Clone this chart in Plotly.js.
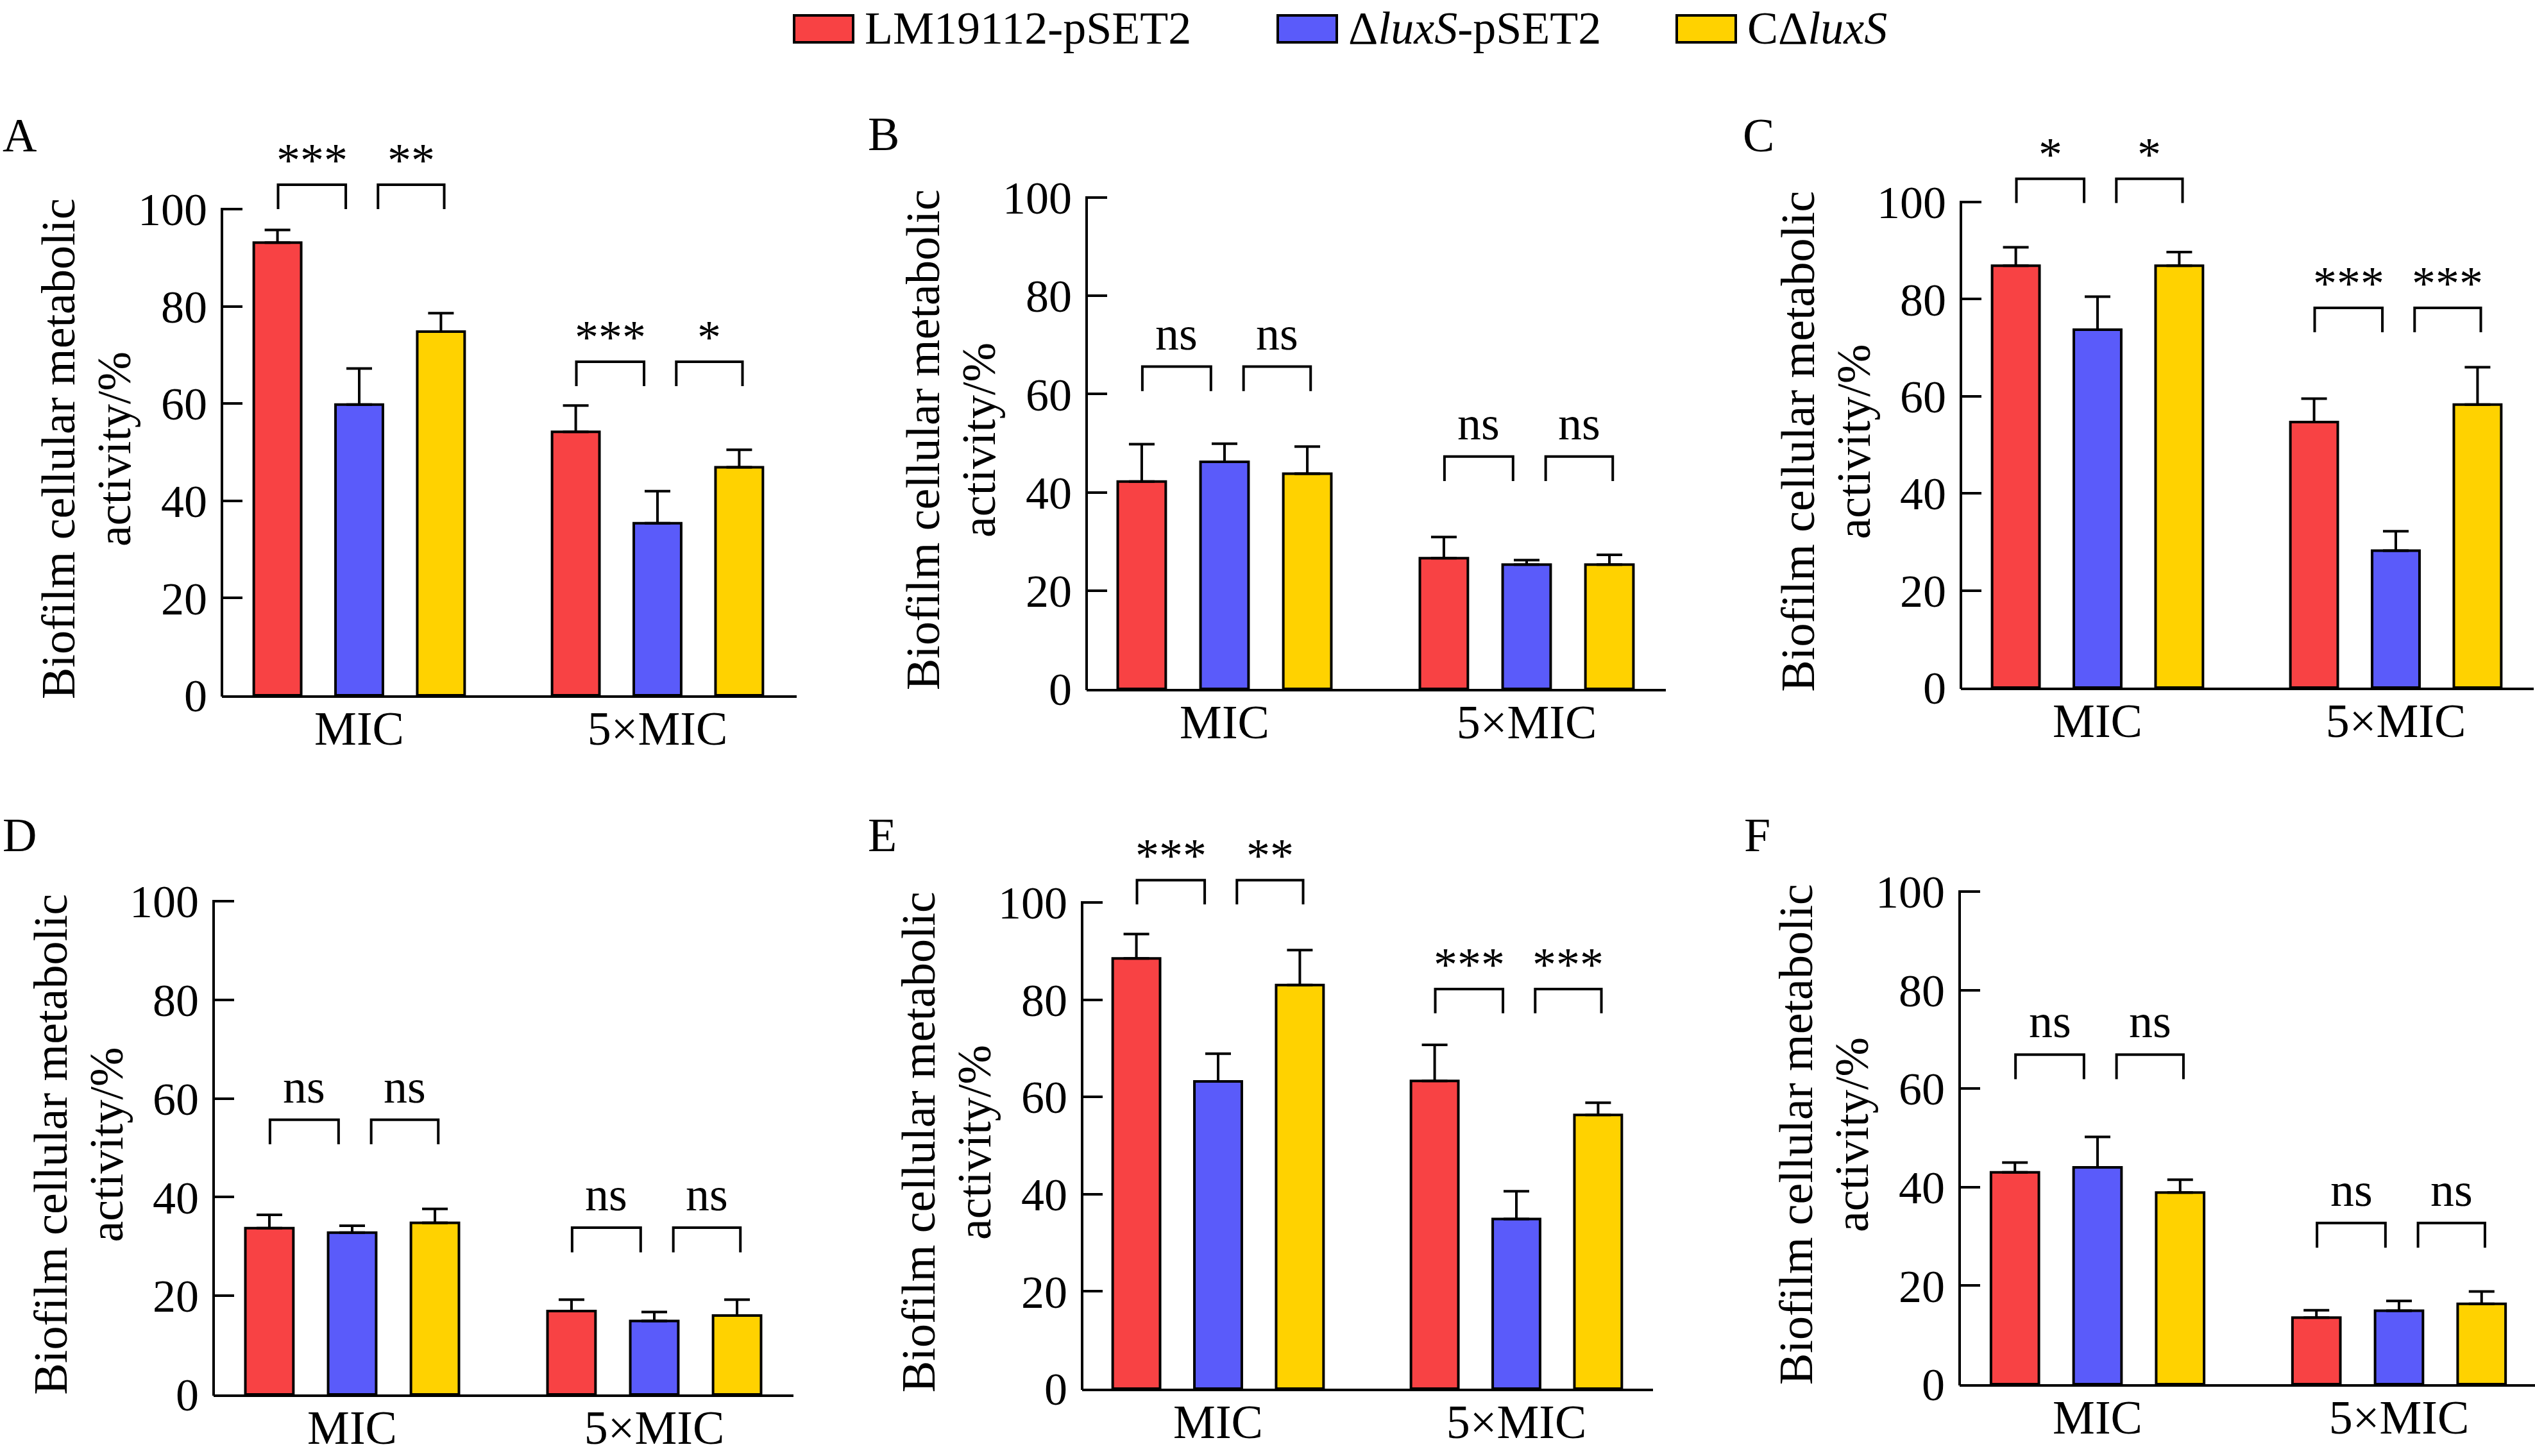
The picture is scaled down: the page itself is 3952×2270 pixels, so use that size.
<!DOCTYPE html>
<html>
<head>
<meta charset="utf-8">
<script src="https://cdn.plot.ly/plotly-3.0.1.min.js"></script>
<style>
  html, body { margin: 0; padding: 0; background: #fff; }
  #plot { width: 3952px; height: 2270px; }
</style>
</head>
<body>
<div id="plot"></div>
<script>
const W = 3952;
const H = 2270;
const FONT = "Liberation Serif, Times New Roman, serif";

const groups = ["MIC", "5×MIC"];
const strains = ["LM19112-pSET2", "Δ<i>luxS</i>-pSET2", "CΔ<i>luxS</i>"];
const colors = ["#F84244", "#5A5BFA", "#FFD200"];
const letters = ["A", "B", "C", "D", "E", "F"];
const yTicks = [0, 20, 40, 60, 80, 100];

// rows: strains, columns: MIC, 5×MIC
const meanA = [[93.1, 54.2], [59.8, 35.4], [74.8, 46.9]];
const errA = [[2.6, 5.4], [7.4, 6.6], [3.8, 3.6]];
const meanB = [[42.2, 26.6], [46.2, 25.3], [43.8, 25.3]];
const errB = [[7.6, 4.3], [3.7, 0.9], [5.5, 2.0]];
const meanC = [[86.9, 54.7], [73.7, 28.2], [86.9, 58.3]];
const errC = [[3.8, 4.8], [6.8, 4.0], [2.8, 7.7]];
const meanD = [[33.7, 16.9], [32.8, 14.9], [34.8, 16.0]];
const errD = [[2.7, 2.3], [1.4, 1.8], [2.8, 3.2]];
const meanE = [[88.5, 63.3], [63.2, 34.9], [83.0, 56.3]];
const errE = [[5.0, 7.4], [5.7, 5.7], [7.2, 2.5]];
const meanF = [[43.0, 13.5], [44.0, 14.9], [38.9, 16.3]];
const errF = [[2.0, 1.5], [6.2, 2.0], [2.6, 2.5]];

// significance marks per group: [strain1 vs strain2, strain2 vs strain3]
const sigA = [["***", "**"], ["***", "*"]];
const sigB = [["ns", "ns"], ["ns", "ns"]];
const sigC = [["*", "*"], ["***", "***"]];
const sigD = [["ns", "ns"], ["ns", "ns"]];
const sigE = [["***", "**"], ["***", "***"]];
const sigF = [["ns", "ns"], ["ns", "ns"]];
// height of the bracket tops per group
const sigTopA = [105, 68.6];
const sigTopB = [65.6, 47.3];
const sigTopC = [104.8, 78.2];
const sigTopD = [55.7, 33.8];
const sigTopE = [104.6, 82.2];
const sigTopF = [66.9, 32.7];

const means = [meanA, meanB, meanC, meanD, meanE, meanF];
const errs = [errA, errB, errC, errD, errE, errF];
const sigs = [sigA, sigB, sigC, sigD, sigE, sigF];
const sigTops = [sigTopA, sigTopB, sigTopC, sigTopD, sigTopE, sigTopF];

// panel frames in pixels: y axis x, x axis end, y=0 row, y=100 row, centre of MIC and 5×MIC groups
const frames = [
  { axis: 346, end: 1242, y0: 1084, y100: 326, c0: 560, c1: 1025 },
  { axis: 1694, end: 2597, y0: 1074, y100: 308, c0: 1909, c1: 2380 },
  { axis: 3057, end: 3950, y0: 1072, y100: 315, c0: 3270, c1: 3735 },
  { axis: 333, end: 1237, y0: 2174, y100: 1405, c0: 549, c1: 1020 },
  { axis: 1687, end: 2577, y0: 2165, y100: 1407, c0: 1899, c1: 2364 },
  { axis: 3055, end: 3952, y0: 2158, y100: 1390, c0: 3270, c1: 3740 }
];
const letterPos = [[2, 211], [1351, 209], [2715, 211], [2, 1302], [1351, 1302], [2717, 1302]];
const bracketOff = [[-0.272, -0.045], [0.063, 0.285]];
const yMax = 112;

const traces = [];
const shapes = [];
const annotations = [];
const layout = {
  width: W,
  height: H,
  margin: { l: 0, r: 0, t: 0, b: 0 },
  paper_bgcolor: "#ffffff",
  plot_bgcolor: "rgba(0,0,0,0)",
  barmode: "group",
  bargap: 0.178,
  bargroupgap: 0.42,
  showlegend: false,
  font: { family: FONT, size: 74, color: "#000" }
};

function px(x) { return x / W; }
function py(y) { return 1 - y / H; }

frames.forEach((f, i) => {
  const n = i === 0 ? "" : String(i + 1);
  const xa = "x" + n;
  const ya = "y" + n;
  const span = f.c1 - f.c0;
  const ppu = (f.y0 - f.y100) / 100;
  const yTopPx = f.y0 - yMax * ppu;

  layout["xaxis" + n] = {
    type: "category",
    domain: [px(f.axis), px(f.end)],
    range: [(f.axis - f.c0) / span, (f.end - f.c0) / span],
    anchor: ya,
    showline: true,
    linecolor: "#000",
    linewidth: 4,
    ticks: "",
    showgrid: false,
    zeroline: false,
    tickfont: { family: FONT, size: 74, color: "#000" },
    ticklabelstandoff: -16,
    fixedrange: true
  };
  layout["yaxis" + n] = {
    domain: [py(f.y0), py(yTopPx)],
    range: [0, yMax],
    anchor: xa,
    showline: false,
    showgrid: false,
    zeroline: false,
    tickmode: "array",
    tickvals: yTicks,
    ticktext: yTicks.map(String),
    ticks: "inside",
    ticklen: 32,
    tickwidth: 4,
    tickcolor: "#000",
    tickfont: { family: FONT, size: 72, color: "#000" },
    ticklabelstandoff: 22,
    fixedrange: true
  };

  strains.forEach((s, k) => {
    traces.push({
      type: "bar",
      name: s,
      x: groups,
      y: means[i][k],
      xaxis: xa,
      yaxis: ya,
      marker: { color: colors[k], line: { color: "#000", width: 4 } },
      error_y: {
        type: "data",
        symmetric: false,
        array: errs[i][k],
        arrayminus: errs[i][k].map(() => 0),
        color: "#000",
        thickness: 4,
        width: 20
      },
      hoverinfo: "skip"
    });
  });

  // y axis line only from 0 to 100
  shapes.push({
    type: "line", xref: "paper", yref: "paper",
    x0: px(f.axis), x1: px(f.axis), y0: py(f.y0 + 2), y1: py(f.y100 - 2),
    line: { color: "#000", width: 4 }
  });

  // significance brackets
  groups.forEach((g, gi) => {
    const top = sigTops[i][gi];
    bracketOff.forEach((o, b) => {
      const x0 = gi + o[0];
      const x1 = gi + o[1];
      shapes.push({
        type: "path", xref: xa, yref: ya,
        path: `M${x0},${top - 5} L${x0},${top} L${x1},${top} L${x1},${top - 5}`,
        line: { color: "#000", width: 4 }
      });
      const label = sigs[i][gi][b];
      annotations.push({
        xref: xa, yref: ya, x: (x0 + x1) / 2, y: top,
        xanchor: "center", yanchor: "bottom",
        yshift: label === "ns" ? 9 : -5,
        text: label, showarrow: false,
        font: { family: FONT, size: 74, color: "#000" }
      });
    });
  });

  // y axis title, two lines
  const mid = (f.y0 + f.y100) / 2 - 5;
  annotations.push({
    xref: "paper", yref: "paper", x: px(f.axis - 255), y: py(mid),
    xanchor: "center", yanchor: "middle", textangle: -90,
    text: "Biofilm cellular metabolic", showarrow: false,
    font: { family: FONT, size: 74, color: "#000" }
  });
  annotations.push({
    xref: "paper", yref: "paper", x: px(f.axis - 168), y: py(mid),
    xanchor: "center", yanchor: "middle", textangle: -90,
    text: "activity/%", showarrow: false,
    font: { family: FONT, size: 74, color: "#000" }
  });

  // panel letter
  annotations.push({
    xref: "paper", yref: "paper", x: px(letterPos[i][0]), y: py(letterPos[i][1]),
    xanchor: "left", yanchor: "middle",
    text: letters[i], showarrow: false,
    font: { family: FONT, size: 74, color: "#000" }
  });
});

// legend drawn at the top
const legendBoxX = [1238, 1992, 2614];
strains.forEach((s, k) => {
  shapes.push({
    type: "rect", xref: "paper", yref: "paper",
    x0: px(legendBoxX[k]), x1: px(legendBoxX[k] + 92), y0: py(66), y1: py(24),
    fillcolor: colors[k], line: { color: "#000", width: 4 }
  });
  annotations.push({
    xref: "paper", yref: "paper", x: px(legendBoxX[k] + 108), y: py(44),
    xanchor: "left", yanchor: "middle",
    text: s, showarrow: false,
    font: { family: FONT, size: 72, color: "#000" }
  });
});

layout.shapes = shapes;
layout.annotations = annotations;

Plotly.newPlot("plot", traces, layout, { displayModeBar: false, staticPlot: true });
</script>
</body>
</html>
